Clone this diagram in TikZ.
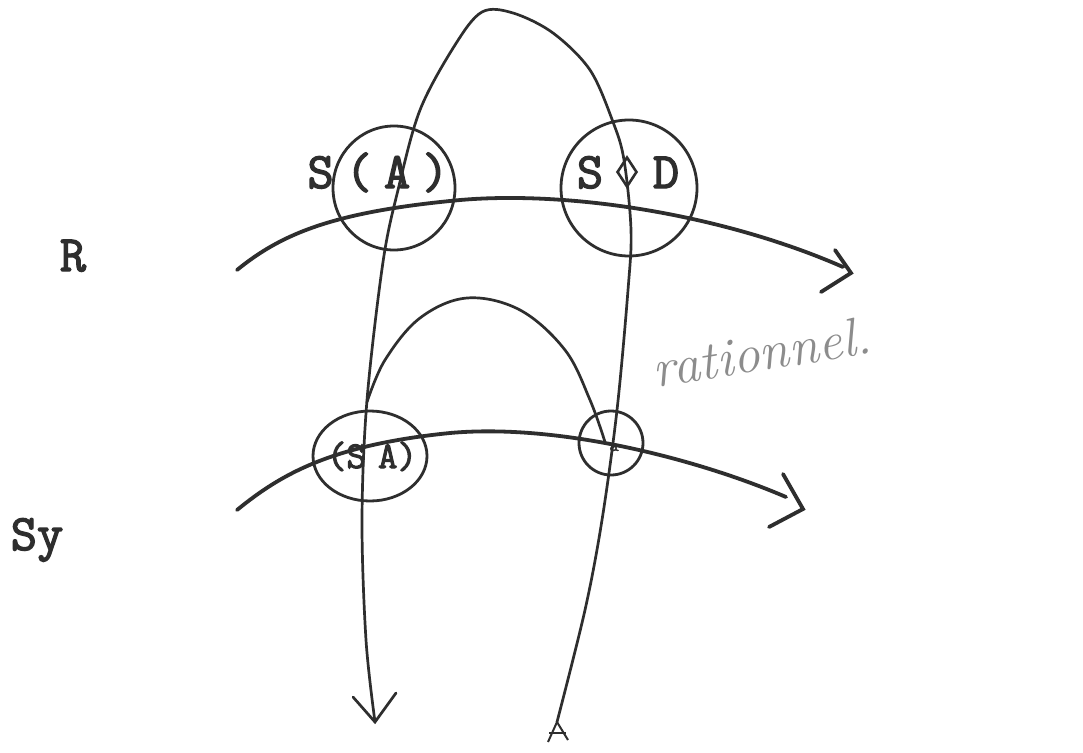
\documentclass[tikz,border=0pt]{standalone}
\usepackage{fontspec}
\newfontfamily\typew[FakeBold=2.6]{Latin Modern Mono}
\usetikzlibrary{arrows.meta,shapes.geometric}
\definecolor{ink}{HTML}{2E2E2E}
\definecolor{pencil}{HTML}{8C8C8C}
\begin{document}
\begin{tikzpicture}[x=1pt,y=-1pt,
  ringline/.style={draw=ink,line width=2.8pt},
  axisline/.style={draw=ink,line width=3.8pt,line cap=round},
  loopline/.style={draw=ink,line width=2.7pt,line cap=round},
  typed/.style={text=ink,font=\typew\fontsize{51}{60}\selectfont,inner sep=0pt,anchor=base},
  smalltyped/.style={text=ink,font=\typew\fontsize{38}{44}\selectfont,inner sep=0pt,anchor=base},
]
\useasboundingbox (0,0) rectangle (1083,752);
\fill[white] (0,0) rectangle (1083,752);

% labels
\node[typed] (R) at (73,271) {R};
\node[typed] (Sy) at (37,550) {Sy};

% circles
\node[ringline,ellipse,minimum width=122pt,minimum height=124pt,inner sep=0pt] (c1) at (394,188) {};
\node[ringline,circle,minimum size=136pt,inner sep=0pt] (c2) at (629,188) {};
\node[ringline,ellipse,minimum width=114pt,minimum height=90pt,inner sep=0pt] (c3) at (370,456) {};
\node[ringline,circle,minimum size=64pt,inner sep=0pt] (c4) at (611,443) {};

% texts in circles
\node[typed] (t1) at (378,188) {S\kern12pt(\kern12pt A\kern12pt)};
\node[typed] (t2a) at (590,188) {S};
\node[draw=ink,line width=2.6pt,diamond,minimum width=20pt,minimum height=30pt,inner sep=0pt] (t2b) at (627,172) {};
\node[typed] (t2c) at (666,188) {D};
\node[smalltyped] (t3) at (372,468) {(S\kern12pt A)};
\node[text=ink,font=\typew\fontsize{18}{20}\selectfont,inner sep=0pt] (t4) at (614,447) {a};

% the R line
\coordinate (r0) at (237,270);
\coordinate (rm) at (450,201);
\coordinate (r9) at (843,267);
\draw[axisline] (r0) .. controls (280,235) and (330,213) .. (rm) .. controls (560,189) and (720,213) .. (r9);
\coordinate (ra1) at (835,250);
\coordinate (ratip) at (851,273);
\coordinate (ra2) at (821,292);
\draw[axisline] (ra1) -- (ratip) -- (ra2);

% the Sy line
\coordinate (s0) at (237,510);
\coordinate (sm) at (450,433);
\coordinate (s9) at (786,497);
\draw[axisline] (s0) .. controls (280,475) and (330,445) .. (sm) .. controls (560,423) and (700,460) .. (s9);
\coordinate (sa1) at (783,474);
\coordinate (satip) at (803,509);
\coordinate (sa2) at (769,527);
\draw[axisline] (sa1) -- (satip) -- (sa2);

% great loop
\coordinate (g0) at (557,722);
\coordinate (g9) at (375,722);
\draw[loopline] plot[smooth,tension=0.55] coordinates {(g0) (585,610) (602,520) (617,410) (628,290) (631,230) (624,160) (613,122) (590,70) (553,33) (513,13) (482,12) (455,45) (420,110) (398,190) (383,262) (367,400) (362,520) (366,640) (g9)};
\coordinate (ga1) at (353,697);
\coordinate (ga2) at (396,693);
\draw[loopline] (ga1) -- (g9) -- (ga2);
\coordinate (gb1) at (548,742);
\coordinate (gb2) at (568,740);
\draw[ink,line width=2pt] (gb1) -- (g0) -- (gb2);
\draw[ink,line width=1.6pt] (549,733) -- (566,733);

% inner loop
\coordinate (i0) at (367,402);
\coordinate (i9) at (605,442);
\draw[loopline] plot[smooth,tension=0.6] coordinates {(i0) (385,360) (420,318) (467,298) (520,310) (565,350) (590,400) (i9)};

% handwritten note
\node[text=pencil,font=\fontsize{54}{60}\selectfont\itshape,rotate=9,inner sep=0pt] (note) at (762,352) {rationnel.};
\end{tikzpicture}
\end{document}
